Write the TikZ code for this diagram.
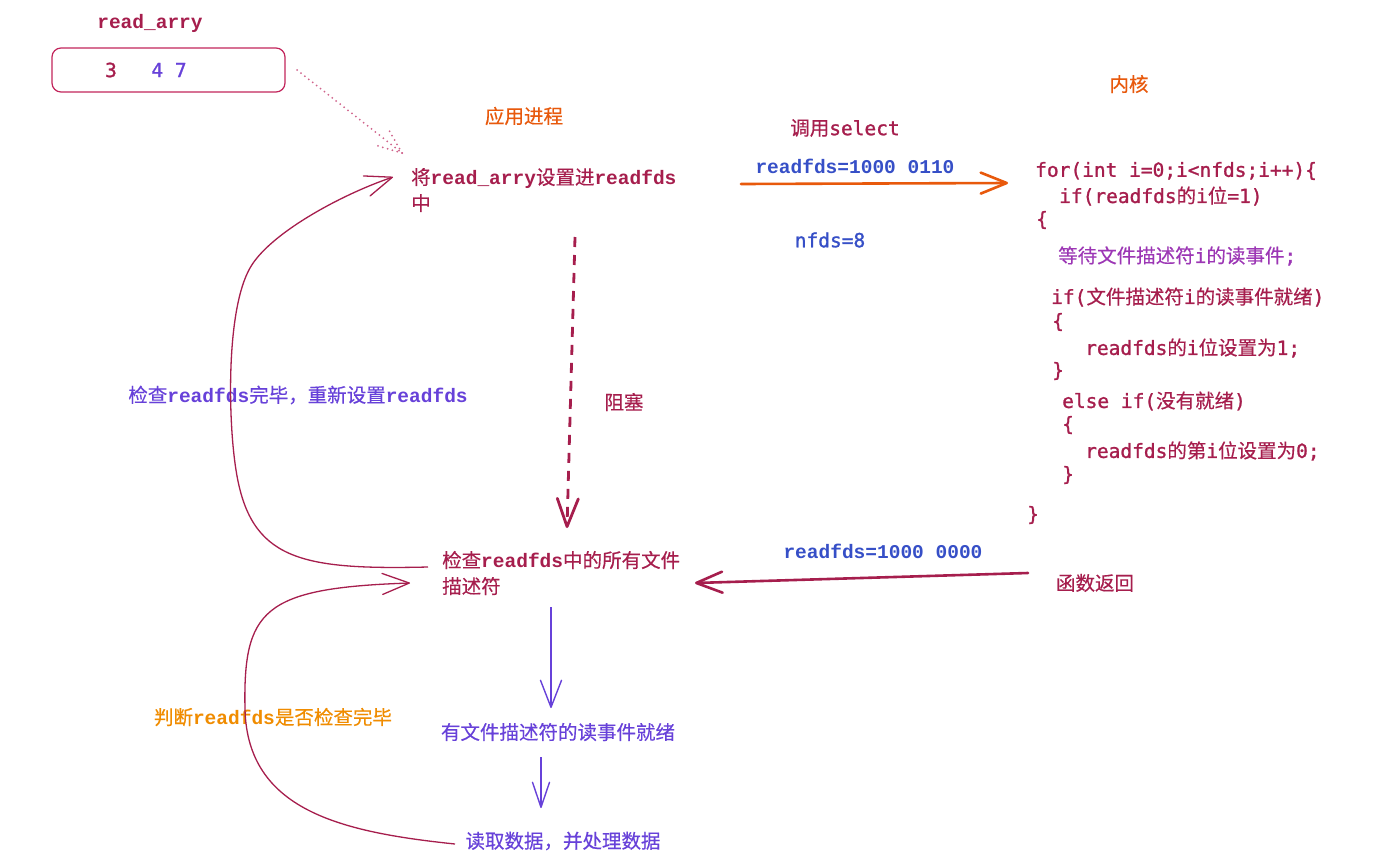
\documentclass[tikz,border=0pt]{standalone}
\usepackage{fontspec}
\setmainfont{DejaVu Sans Mono}[FakeBold=1.2]
\newfontfamily\cjkf{Noto Sans CJK SC}[FakeBold=0.4]
\newfontfamily\slabf{Liberation Mono}
\newcommand\cj[1]{{\cjkf #1}}
\newcommand\slb[1]{{\slabf\bfseries #1}}
\usetikzlibrary{arrows.meta,calc}
\definecolor{crim}{HTML}{A61E4D}
\definecolor{rectc}{HTML}{C2255C}
\definecolor{indig}{HTML}{364FC7}
\definecolor{viol}{HTML}{6741D9}
\definecolor{grape}{HTML}{9C36B5}
\definecolor{orgt}{HTML}{E8590C}
\definecolor{yell}{HTML}{F08C00}
\definecolor{dotc}{HTML}{D0648C}
\begin{document}
\begin{tikzpicture}[x=1pt,y=-1pt,
  every node/.style={font=\fontsize{19.5}{26}\selectfont, inner sep=0pt},
  lt/.style={anchor=west},
  curve/.style={draw=crim, line width=1.3pt, -{Straight Barb[length=27pt,width=21pt,round]}},
  thickarr/.style={line width=2.6pt, line cap=round, -{Straight Barb[length=26pt,width=21pt,round]}},
  parr/.style={draw=viol, line width=1.4pt, -{Straight Barb[length=27pt,width=21pt,round]}},
  dasharr/.style={draw=crim, line width=2.8pt, dash pattern=on 10pt off 8pt, -{Straight Barb[length=28pt,width=21pt,round]}},
  dotl/.style={draw=dotc, line width=2pt, line cap=round, dash pattern=on 0pt off 5pt}
]
\fill[white] (0,0) rectangle (1373,865);
\useasboundingbox (0,0) rectangle (1373,865);

% array box
\node[text=crim] (arrlbl) at (150,23) {\slb{read\_arry}};
\node[draw=rectc, rounded corners=9pt, line width=1.2pt, minimum width=233pt, minimum height=44pt] (arr) at (168.5,70) {};
\node[text=crim] (n3) at (111,70) {3};
\node[text=viol] (n47) at (169,70) {4 7};

% application side
\node[text=orgt] (app) at (524,116) {\cj{应用进程}};
\node[text=crim, lt, align=left] (setA) at (411,190) {\cj{将}\slb{read\_arry}\cj{设置进}\slb{readfds}\\\cj{中}};
\node[text=crim] (blk) at (624,402) {\cj{阻塞}};
\node[text=crim, lt, align=left] (chkB) at (442,573) {\cj{检查}\slb{readfds}\cj{中的所有文件}\\\cj{描述符}};
\node[text=viol] (rdy) at (558,732) {\cj{有文件描述符的读事件就绪}};
\node[text=viol] (proc) at (563,841) {\cj{读取数据，并处理数据}};
\node[text=viol] (relbl) at (298,395) {\cj{检查}\slb{readfds}\cj{完毕，重新设置}\slb{readfds}};
\node[text=yell] (judge) at (273,717) {\cj{判断}\slb{readfds}\cj{是否检查完毕}};

% dotted arrow
\coordinate (ds) at (297,70);
\coordinate (de) at (402,153);
\draw[dotl] (ds) -- (de);
\draw[dotl] (de) -- ($(de)!29pt!22:(ds)$);
\draw[dotl] (de) -- ($(de)!29pt!-22:(ds)$);

% blocking dashed arrow
\coordinate (bs) at (575,237);
\coordinate (be) at (567,528);
\draw[dasharr] (bs) -- (be);

% purple arrows
\coordinate (p1s) at (551,607);
\coordinate (p1e) at (551,708);
\coordinate (p2s) at (541,757);
\coordinate (p2e) at (541,808);
\draw[parr] (p1s) -- (p1e);
\draw[parr, -{Straight Barb[length=25pt,width=17pt,round]}] (p2s) -- (p2e);

% loop curves
\coordinate (c1s) at (428,567);
\coordinate (c1e) at (393,177);
\draw[curve] (c1s) .. controls (300,570) and (250,560) .. (236,470)
  .. controls (228,420) and (226,310) .. (250,268)
  .. controls (269,234) and (340,195) .. (c1e);
\coordinate (c2s) at (455,844);
\coordinate (c2e) at (410,583);
\draw[curve] (c2s) .. controls (340,832) and (248,810) .. (245,710)
  .. controls (243,610) and (262,588) .. (c2e);

% select call
\node[text=crim] (call) at (845,128) {\cj{调用}select};
\node[text=indig] (rf1) at (855,166) {\slb{readfds=1000 0110}};
\node[text=indig] (nf) at (830,240) {nfds=8};
\coordinate (os) at (741,184);
\coordinate (oe) at (1008,183);
\draw[thickarr, draw=orgt] (os) -- (oe);

% kernel
\node[text=orgt] (kern) at (1129,84) {\cj{内核}};
\begin{scope}[every node/.append style={text=crim, lt}]
\node (k1) at (1035,171) {for(int i=0;i<nfds;i++)\{};
\node (k2) at (1059,196) {if(readfds\cj{的}i\cj{位}=1)};
\node (k3) at (1036,220) {\{};
\node[text=grape] (k4) at (1058,256) {\cj{等待文件描述符}i\cj{的读事件};};
\node (k5) at (1051,297) {if(\cj{文件描述符}i\cj{的读事件就绪})};
\node (k6) at (1052,322) {\{};
\node (k7) at (1085,348) {readfds\cj{的}i\cj{位设置为}1;};
\node (k8) at (1052,371) {\}};
\node (k9) at (1062,401) {else if(\cj{没有就绪})};
\node (k10) at (1062,425) {\{};
\node (k11) at (1085,451) {readfds\cj{的第}i\cj{位设置为}0;};
\node (k12) at (1062,475) {\}};
\node (k13) at (1027,515) {\}};
\end{scope}

% return
\node[text=indig] (rf2) at (883,551) {\slb{readfds=1000 0000}};
\node[text=crim] (ret) at (1095,583) {\cj{函数返回}};
\coordinate (rs) at (1028,573);
\coordinate (re) at (695,583);
\draw[thickarr, draw=crim] (rs) -- (re);
\end{tikzpicture}
\end{document}
